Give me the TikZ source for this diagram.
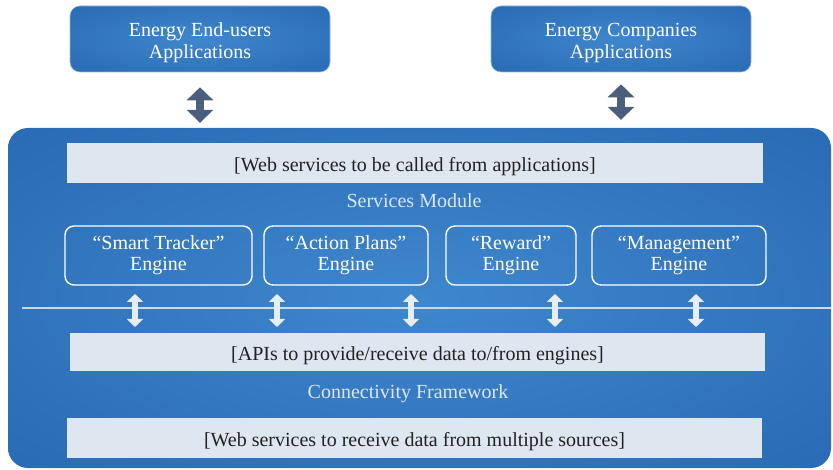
\documentclass[tikz,border=0pt]{standalone}
\usepackage{fontspec}
\setmainfont{Liberation Serif}
\usetikzlibrary{arrows.meta}

\definecolor{blueIn}{HTML}{3F87CD}
\definecolor{blueOut}{HTML}{1D5BA6}
\definecolor{barFill}{HTML}{DEE6EF}
\definecolor{barText}{HTML}{222222}
\definecolor{capText}{HTML}{DCE7F3}
\definecolor{slateArrow}{HTML}{4B5E7D}
\definecolor{paleArrow}{HTML}{E6EDF5}
\definecolor{divider}{HTML}{C9DAEC}

\pgfdeclareradialshading{softglow}{\pgfpoint{0bp}{0bp}}{%
  color(0bp)=(blueIn); color(55bp)=(blueOut); color(80bp)=(blueOut)}

% two centred lines, set a little below the middle of their box
\newcommand\stackedtext[2]{%
  \smash{\raisebox{-9pt}{\begin{tabular}{@{}c@{}}#1\\#2\end{tabular}}}}

\tikzset{
  txt/.style={font=\fontsize{20}{22}\selectfont},
  appbox/.style={txt, shading=softglow, rounded corners=10pt, text=white,
    minimum width=260pt, minimum height=66pt, inner sep=0pt,
    draw=blueIn!60!white, line width=0.6pt},
  bar/.style={txt, fill=barFill, text=barText, minimum height=40pt,
    inner sep=0pt, text height=16.8pt, text depth=0pt},
  caption/.style={txt, text=capText, inner sep=0pt},
  engine/.style={font=\fontsize{20}{21}\selectfont, draw=white, line width=1.4pt,
    rounded corners=9pt, text=white, align=center, minimum height=59pt,
    inner sep=0pt},
  bigarrow/.style={slateArrow, line width=8pt,
    {Triangle[width=26pt,length=13pt]}-{Triangle[width=26pt,length=13pt]}},
  smallarrow/.style={paleArrow, line width=5.5pt,
    {Triangle[width=16pt,length=8pt]}-{Triangle[width=16pt,length=8pt]}},
}

\begin{document}
\begin{tikzpicture}[x=1pt,y=-1pt]
\useasboundingbox (0,0) rectangle (833,470);

% outer platform panel
\node[shading=softglow, rounded corners=20pt, minimum width=823pt,
  minimum height=340pt, inner sep=0pt] (main) at (419.5,298) {};

% application boxes
\node[appbox] (eu) at (200,39) {\stackedtext{Energy End-users}{Applications}};
\node[appbox] (ec) at (621,39) {\stackedtext{Energy Companies}{Applications}};

\draw[bigarrow, shorten <=15pt, shorten >=5pt] (eu.south) -- (eu.south |- main.north);
\draw[bigarrow, shorten <=12pt, shorten >=8pt] (ec.south) -- (ec.south |- main.north);

% services module
\node[bar, minimum width=696pt] (web) at (415,163)
  {[Web services to be called from applications]};
\node[caption] (svc) at (414,201) {Services Module};

\node[engine, minimum width=187pt] (st) at (158.5,255.5) {“Smart Tracker”\\Engine};
\node[engine, minimum width=164pt] (ap) at (346,255.5) {“Action Plans”\\Engine};
\node[engine, minimum width=130pt] (rw) at (511,255.5) {“Reward”\\Engine};
\node[engine, minimum width=174pt] (mg) at (679,255.5) {“Management”\\Engine};

% divider between module and framework
\coordinate (dl) at (22,308);
\coordinate (dr) at (831,308);
\draw[divider, line width=1.2pt] (dl) -- (dr);

% connectivity framework
\node[bar, minimum width=695pt, minimum height=38pt] (api) at (417.5,352)
  {[APIs to provide/receive data to/from engines]};
\node[caption] (cf) at (408,394) {Connectivity Framework};
\node[bar, minimum width=695pt] (src) at (414.5,438)
  {[Web services to receive data from multiple sources]};

% data exchange arrows
\foreach \i/\x in {1/135,2/277,3/411,4/555,5/696}{
  \coordinate (t\i) at (\x,294);
  \coordinate (b\i) at (\x,327);
  \draw[smallarrow] (t\i) -- (b\i);
}
\end{tikzpicture}
\end{document}
